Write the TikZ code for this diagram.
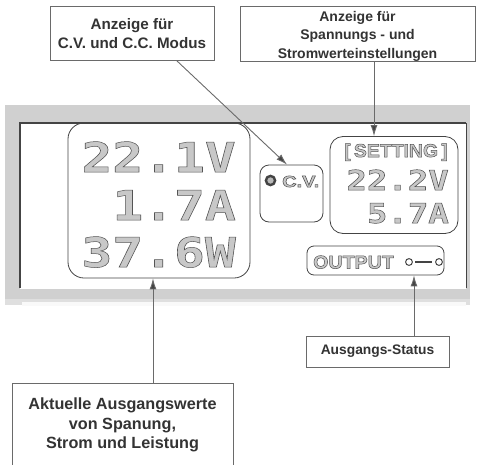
\documentclass[tikz,border=0pt]{standalone}
\usepackage{fontspec}
\setmainfont{Liberation Sans}
\newfontfamily\lcdfont{DejaVu Sans Mono}
\usetikzlibrary{arrows.meta,calc}
\definecolor{boxgray}{HTML}{6A6A6A}
\definecolor{txt}{HTML}{333333}
\definecolor{dark}{HTML}{444444}
\definecolor{panelgray}{HTML}{D0D0D0}
\definecolor{digitfill}{HTML}{C8C8C8}
\newcommand\outl[1]{\special{pdf:literal direct 2 Tr 0.5 w 0.33 0.33 0.33 RG}#1\special{pdf:literal direct 0 Tr}}
\tikzset{
  lbl/.style={draw=boxgray, line width=0.9pt, fill=white, text=txt,
    font=\fontsize{14}{19}\selectfont\bfseries, align=center, inner sep=0pt},
  lcdbox/.style={draw=dark, line width=0.8pt, rounded corners=#1},
  lcdbig/.style={inner sep=0pt, anchor=base east, text=digitfill,
    font=\fontsize{41}{41}\selectfont\lcdfont\bfseries},
  lcdsmall/.style={inner sep=0pt, anchor=base east, text=digitfill,
    font=\fontsize{27.4}{28}\selectfont\lcdfont\bfseries},
  lcdtext/.style={inner sep=0pt, text=digitfill, font=\bfseries},
  arr/.style={draw=boxgray, line width=0.9pt, -{Latex[length=11pt,width=7pt,fill=dark]}}
}
\begin{document}
\begin{tikzpicture}[x=1pt,y=-1pt]
\useasboundingbox (0,0) rectangle (480,464);
% panel
\fill[panelgray] (5,105) rectangle (470,300);
\fill[gray!25] (5,299) rectangle (470,305);
\fill[white!95!gray] (22,302) rectangle (466,306);
\fill[white] (20,123) rectangle (466,288);
\draw[dark, line width=2.4pt] (20,288) -- (20,123) -- (466,123);
\draw[dark, line width=1pt] (466,123) -- (466,288);
\draw[white, line width=1.2pt] (20,288.5) -- (466,288.5);
% LCD boxes
\node[lcdbox=16, minimum width=182pt, minimum height=155pt, inner sep=0pt] (lv) at (159,200.5) {};
\node[lcdbox=9, minimum width=63pt, minimum height=57pt, inner sep=0pt] (cv) at (291.5,193.5) {};
\node[lcdbox=13, minimum width=128pt, minimum height=97pt, inner sep=0pt] (set) at (394,185) {};
\node[lcdbox=7, minimum width=137pt, minimum height=29pt, inner sep=0pt] (out) at (375.5,260.5) {};
% big digits
\node[lcdbig] (d1) at (236,172) {\scalebox{1.25}[1]{\outl{22.1V}}};
\node[lcdbig] (d2) at (236,220) {\scalebox{1.25}[1]{\outl{1.7A}}};
\node[lcdbig] (d3) at (236,267) {\scalebox{1.25}[1]{\outl{37.6W}}};
% setting digits
\node[lcdtext, anchor=base east, font=\fontsize{18.5}{19}\selectfont\bfseries] (st) at (448,157) {\scalebox{1.05}[1]{\outl{[\,SETTING\,]}}};
\node[lcdsmall] (s1) at (449,190) {\scalebox{1.24}[1]{\outl{22.2V}}};
\node[lcdsmall] (s2) at (449,223) {\scalebox{1.24}[1]{\outl{5.7A}}};
% C.V.
\draw[dark, line width=2.4pt, fill=gray!55] (270.5,180.5) circle (4.6pt);
\node[lcdtext, anchor=base west, font=\fontsize{16}{16}\selectfont\bfseries] (cvt) at (282,187) {\scalebox{1.25}[1]{\outl{C.V.}}};
% OUTPUT
\node[lcdtext, anchor=base west, font=\fontsize{18.5}{19}\selectfont\bfseries] (ot) at (313,268.5) {\scalebox{1.06}[1]{\outl{OUTPUT}}};
\draw[dark, line width=1pt, fill=white] (409,262) circle (3.4pt);
\draw[dark, line width=1pt, fill=white] (439,262) circle (3.4pt);
\draw[dark, line width=1.3pt] (415,262) -- (432,262);
% label boxes
\node[lbl, minimum width=164pt, minimum height=54pt, font=\fontsize{15.2}{19}\selectfont\bfseries] (tl) at (132,33.5) {Anzeige für\\C.V. und C.C. Modus};
\node[lbl, minimum width=235pt, minimum height=54pt, font=\fontsize{14}{18.5}\selectfont\bfseries] (tr) at (357.5,34) {\rule{0pt}{14.5pt}Anzeige für\\Spannungs - und\\Stromwerteinstellungen};
\node[lbl, minimum width=143pt, minimum height=31pt, font=\fontsize{13.8}{16}\selectfont\bfseries] (st2) at (377.5,351.5) {Ausgangs-Status};
\node[lbl, minimum width=221pt, minimum height=84pt, font=\fontsize{16.2}{19.5}\selectfont\bfseries] (bl) at (122.5,425) {Aktuelle Ausgangswerte\\von Spanung,\\Strom und Leistung};
% connectors
\draw[arr] ([xshift=45pt]tl.south) -- ([xshift=-4.5pt]cv.north);
\draw[arr] ([xshift=16.5pt]tr.south) -- ([xshift=16.5pt]tr.south |- set.north);
\draw[arr] ([xshift=30.5pt]bl.north) -- ([xshift=30.5pt]bl.north |- lv.south);
\draw[arr] ([xshift=36.5pt]st2.north) -- ([xshift=36.5pt]st2.north |- out.south);
\end{tikzpicture}
\end{document}
